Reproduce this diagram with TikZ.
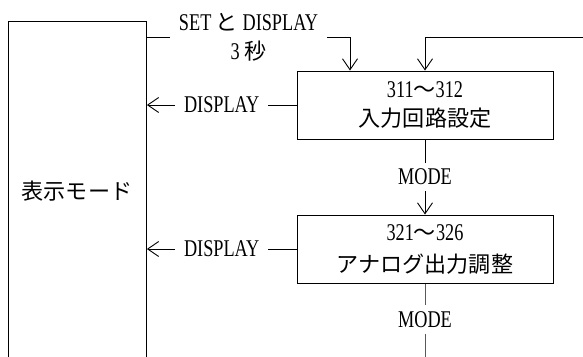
\documentclass[tikz,border=0pt]{standalone}
\usepackage{fontspec}
\setmainfont[FakeStretch=0.76]{Liberation Serif}
\newfontfamily\jpfont[Scale=0.92]{Noto Sans CJK JP}
\usetikzlibrary{arrows.meta,positioning,calc}

\begin{document}
\begin{tikzpicture}[x=1pt, y=-1pt, line width=0.9pt,
        font=\fontsize{24}{29}\selectfont,
        flow/.style={-{Straight Barb[length=11pt,width=15pt,line width=0.9pt]}},
        stepbox/.style={draw, minimum width=256pt, minimum height=68pt, align=center, inner sep=0pt},
        lbl/.style={fill=white, inner xsep=9pt, inner ysep=6pt}]
            \clip (0,0) rectangle (583,356);
            \node[draw, anchor=north west, minimum width=138pt, minimum height=360pt, inner sep=0pt] (dmode) at (8,21) {};
            \node (dmodetxt) at (77,191) {\jpfont 表示モード};

            \node[stepbox] (b1) at (425,105) {311{\jpfont ～}312\\{\jpfont 入力回路設定}};
            \node[stepbox] (b2) at (425,249) {321{\jpfont ～}326\\[3pt]{\jpfont アナログ出力調整}};

            \coordinate (setin) at (350,37);
            \coordinate (ret) at (590,37);

            \draw[flow] (dmode.east |- setin) -- node[lbl, align=center, inner ysep=2pt] {SET {\jpfont と} DISPLAY\\3 {\jpfont 秒}} (setin) -- (setin |- b1.north);
            \draw[flow] (ret) -| (b1.north);

            \draw[flow] (b1.west) -- node[lbl] {DISPLAY} (dmode.east |- b1.west);
            \draw[flow] (b2.west) -- node[lbl] {DISPLAY} (dmode.east |- b2.west);

            \draw[flow] (b1.south) -- node[lbl] {MODE} (b2.north);
            \draw (b2.south) -- node[lbl] {MODE} ++(0,72) -- ++(0,10);
        \end{tikzpicture}
\end{document}
